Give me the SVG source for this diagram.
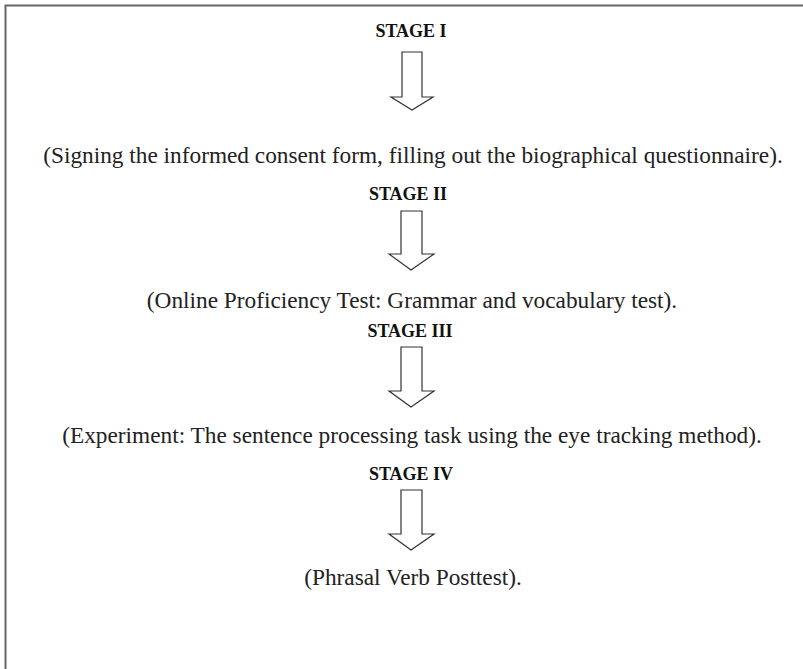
<svg xmlns="http://www.w3.org/2000/svg" width="803" height="669" viewBox="0 0 803 669">
<style>
.stage{font-family:"Liberation Serif","Times New Roman",serif;font-weight:bold;font-size:18px;fill:#111;text-anchor:middle}
.desc{font-family:"Liberation Serif","Times New Roman",serif;font-size:23.3px;fill:#222;text-anchor:middle}
.arrow{fill:#fff;stroke:#333;stroke-width:1.2;stroke-linejoin:miter}
.frame{fill:none;stroke:#666;stroke-width:2}
</style>
<rect width="803" height="669" fill="#fff"/>
<path class="frame" d="M5.5,669 V5.5 H803"/>
<g id="stage1">
<text class="stage" x="411" y="37">STAGE I</text>
</g>
<g id="step1">
<text class="desc" x="413" y="163">(Signing the informed consent form, filling out the biographical questionnaire).</text>
</g>
<g id="stage2">
<text class="stage" x="408" y="200">STAGE II</text>
</g>
<g id="step2">
<text class="desc" x="412" y="308">(Online Proficiency Test: Grammar and vocabulary test).</text>
</g>
<g id="stage3">
<text class="stage" x="410" y="337">STAGE III</text>
</g>
<g id="step3">
<text class="desc" x="412" y="443">(Experiment: The sentence processing task using the eye tracking method).</text>
</g>
<g id="stage4">
<text class="stage" x="411" y="480">STAGE IV</text>
</g>
<g id="step4">
<text class="desc" x="413" y="585">(Phrasal Verb Posttest).</text>
</g>
<g id="connectors">
<path class="arrow" d="M402,52 H422 V97 H433 L412,110 L391,97 H402 Z"/>
<path class="arrow" d="M401,211 H422 V254 H434 L411,270 L389,254 H401 Z"/>
<path class="arrow" d="M401,347 H422 V391 H434 L411,407 L389,391 H401 Z"/>
<path class="arrow" d="M401,490 H422 V534 H434 L411,550 L389,534 H401 Z"/>
</g>
</svg>
